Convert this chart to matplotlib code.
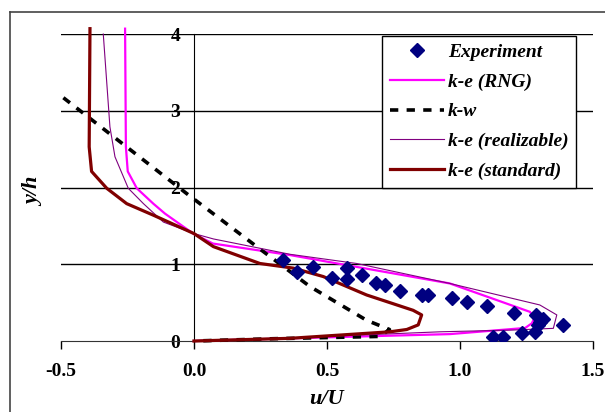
import numpy as np
import matplotlib.pyplot as plt
from matplotlib.lines import Line2D

plt.rcParams['font.family'] = ['Liberation Serif', 'DejaVu Serif']
plt.rcParams['font.weight'] = 'bold'

# experiment (u/U, y/h)
exp_u = [0.336, 0.386, 0.449, 0.518, 0.574, 0.574, 0.630, 0.684, 0.718, 0.774,
         0.856, 0.881, 0.969, 1.025, 1.100, 1.203, 1.286, 1.313, 1.300, 1.294,
         1.387, 1.232, 1.282, 1.125, 1.163]
exp_y = [1.055, 0.903, 0.964, 0.827, 0.951, 0.808, 0.860, 0.762, 0.736, 0.658,
         0.606, 0.599, 0.556, 0.508, 0.450, 0.371, 0.339, 0.287, 0.250, 0.208,
         0.208, 0.108, 0.121, 0.056, 0.056]

# k-e (RNG)
rng_u = [-0.259, -0.256, -0.249, -0.215, -0.153, -0.109, -0.003, 0.071, 0.361,
         0.962, 1.263, 1.280, 1.270, 1.245, 0.962, 0.361, 0.0]
rng_y = [4.07, 2.53, 2.21, 1.99, 1.79, 1.66, 1.40, 1.27, 1.12,
         0.75, 0.38, 0.30, 0.23, 0.17, 0.09, 0.035, 0.0]

# k-w
kw_u = [-0.491, -0.027, 0.236, 0.436, 0.649, 0.735, 0.70, 0.30, 0.0]
kw_y = [3.17, 1.92, 1.23, 0.71, 0.27, 0.15, 0.06, 0.03, 0.0]

# k-e (realizable)
rea_u = [-0.341, -0.316, -0.297, -0.247, -0.190, -0.115, 0.0, 0.073, 0.361,
         0.612, 0.962, 1.300, 1.364, 1.351, 1.200, 0.925, 0.361, 0.0]
rea_y = [4.0, 2.79, 2.40, 1.99, 1.79, 1.55, 1.40, 1.33, 1.13,
         1.01, 0.75, 0.47, 0.34, 0.165, 0.143, 0.12, 0.04, 0.0]

# k-e (standard)
std_u = [-0.391, -0.394, -0.385, -0.328, -0.253, -0.153, 0.0, 0.073, 0.248,
         0.373, 0.486, 0.649, 0.824, 0.856, 0.843, 0.800, 0.737, 0.361, 0.0]
std_y = [4.07, 2.53, 2.21, 1.99, 1.79, 1.64, 1.40, 1.23, 1.01,
         0.95, 0.84, 0.60, 0.40, 0.34, 0.21, 0.15, 0.12, 0.035, 0.0]

fig = plt.figure(figsize=(6.05, 4.12), dpi=100)
ax = fig.add_axes([0.1008, 0.1723, 0.8793, 0.7451])

ax.set_xlim(-0.5, 1.5)
ax.set_ylim(0, 4)

for yv in [1, 2, 3, 4]:
    ax.axhline(yv, color='black', lw=1.0, zorder=1)

ax.plot(exp_u, exp_y, 'D', color='#000080', ms=7.5, ls='none', label='Experiment', zorder=5)
ax.plot(rng_u, rng_y, color='#ff00ff', lw=1.6, label='k-e (RNG)', clip_on=False, zorder=3)
ax.plot(kw_u, kw_y, color='black', lw=2.6, dashes=(2.3, 2.3), label='k-w', clip_on=False, zorder=3)
ax.plot(rea_u, rea_y, color='#800080', lw=0.8, label='k-e (realizable)', clip_on=False, zorder=3)
ax.plot(std_u, std_y, color='#800000', lw=2.3, label='k-e (standard)', clip_on=False, zorder=4)

ax.spines['top'].set_visible(False)
ax.spines['right'].set_visible(False)
ax.spines['left'].set_position(('data', 0))
ax.spines['left'].set_zorder(1)
ax.spines['bottom'].set_color('#333333')

ax.set_xticks([-0.5, 0.0, 0.5, 1.0, 1.5])
ax.set_xticklabels(['-0.5', '0.0', '0.5', '1.0', '1.5'])
ax.set_yticks([0, 1, 2, 3, 4])
ax.tick_params(axis='x', direction='out', length=6, width=1, pad=10, labelsize=14)
ax.tick_params(axis='y', length=0, pad=10, labelsize=14)
for t in ax.get_xticklabels() + ax.get_yticklabels():
    t.set_fontweight('bold')

ax.set_xlabel('u/U', fontsize=16, fontweight='bold', style='italic', labelpad=6)
fig.text(0.056, 0.535, 'y/h', rotation=90, ha='center', va='center',
         fontsize=16, fontweight='bold', style='italic')

leg = ax.legend(loc='upper left', bbox_to_anchor=(0.603, 0.995), borderaxespad=0,
                frameon=True, fancybox=False, framealpha=1, edgecolor='black',
                borderpad=0.4, handlelength=2.8, handletextpad=0.2, labelspacing=0.62,
                prop={'weight': 'bold', 'style': 'italic', 'size': 14})
leg.get_frame().set_linewidth(1.0)

# outer chart frame
fig.add_artist(Line2D([10 / 605, 1.0], [1 - 12 / 412, 1 - 12 / 412], color='#444444', lw=1.2))
fig.add_artist(Line2D([10 / 605, 10 / 605], [0.0, 1 - 12 / 412], color='#444444', lw=1.2))

fig.savefig('out.png', dpi=100)
